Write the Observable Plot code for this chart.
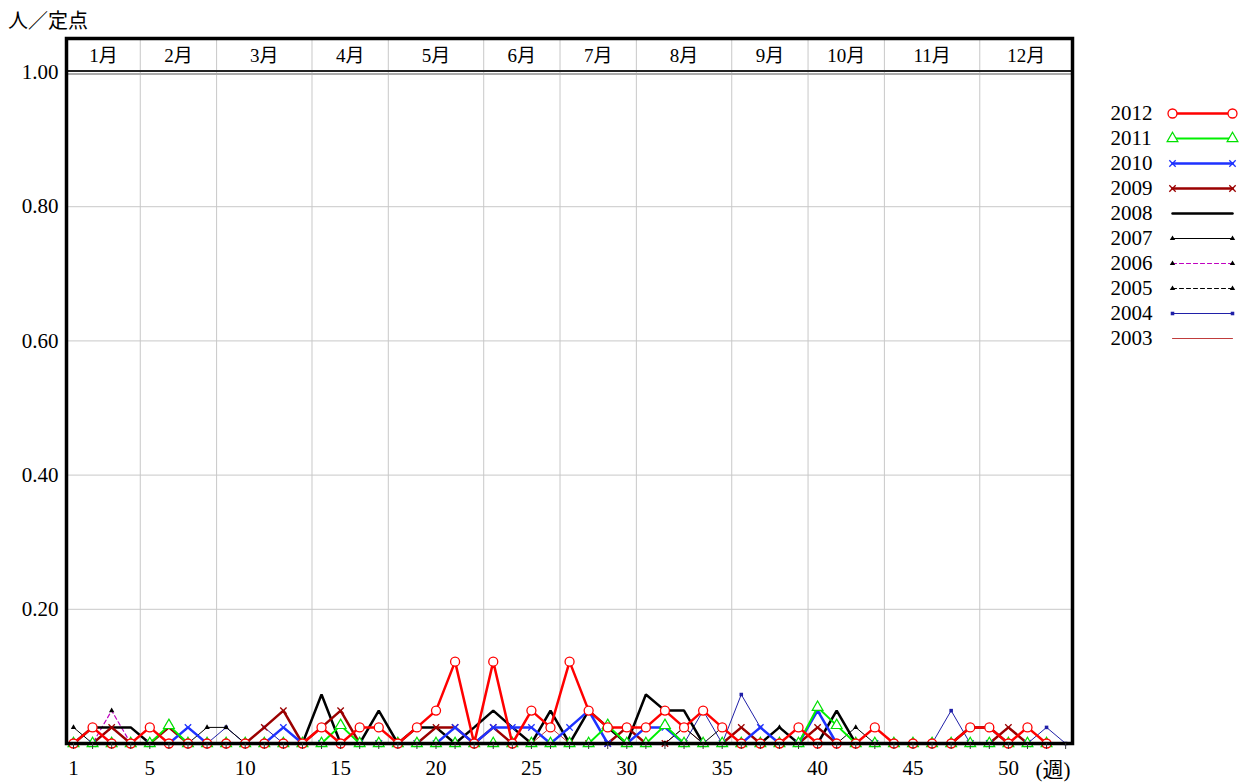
<!DOCTYPE html>
<html><head><meta charset="utf-8">
<script src="https://cdn.jsdelivr.net/npm/d3@7"></script>
<script src="https://cdn.jsdelivr.net/npm/@observablehq/plot@0.6"></script>
<style>
body{margin:0;background:#fff;width:1245px;height:784px;overflow:hidden;position:relative;font-family:"Liberation Serif","Noto Sans CJK JP",serif;}
#title{position:absolute;left:8px;top:5px;font-size:20px;font-family:"Noto Sans CJK JP",sans-serif;color:#000;}
#chart{position:absolute;left:0;top:0;}
#legend{position:absolute;left:1095px;top:95px;}
</style></head><body>
<div id="chart"></div><div id="title">人／定点</div><div id="legend"></div>
<script>
// ---- data ----
const years = [2012, 2011, 2010, 2009, 2008, 2007, 2006, 2005, 2004, 2003];
const v2012 = [0,.024,0,0,.024,0,0,0,0,0, 0,0,0,.024,0,.024,.024,0,.024,.049, .122,0,.122,0,.049,.024,.122,.049,.024,.024, .024,.049,.024,.049,.024,0,0,0,.024,0, 0,0,.024,0,0,0,0,.024,.024,0,.024,0];
const v2011 = [0,0,0,0,0,.027,0,0,0,0, 0,0,0,0,.027,0,0,0,0,0, 0,0,0,0,0,0,0,0,.027,0, 0,.027,0,0,0,0,0,0,0,.054, .027,0,0,0,0,0,0,0,0,0,0,0];
const v2010 = [0,0,0,0,0,0,.024,0,0,0, 0,.024,0,0,0,0,0,0,0,0, .024,0,.024,.024,.024,0,.024,.049,0,0, .024,.024,0,0,0,0,.024,0,0,.049, 0,0,0,0,0,0,0,0,0,0,0,0];
const v2009 = [0,0,.024,0,0,.024,0,0,0,0, .024,.049,0,.024,.049,0,0,0,0,.024, .024,0,.024,0,0,0,0,0,0,.024, 0,0,0,0,0,.024,0,0,0,.024, 0,0,0,0,0,0,0,0,0,.024,0,0];
const v2008 = [0,.024,.024,.024,0,0,0,0,0,0, 0,0,0,.073,0,0,.049,0,.024,.024, 0,.024,.049,.024,0,.049,0,.049,.024,0, .073,.049,.049,0,0,0,0,.024,0,0, .049,0,0,0,0,0,0,.024,.024,0,0,0];
const v2007 = [.024,0,0,0,0,0,0,.024,.024,0, 0,0,0,0,0,0,0,0,0,0, 0,0,0,0,0,0,0,0,0,.024, 0,0,.024,0,.024,0,0,0,.024,0, 0,.024,0,0,0,0,0,0,0,0,0,0];
const v2006 = [0,0,.049,0,0,0,0,0,0,0, 0,0,0,0,0,0,0,0,0,0, 0,0,0,0,0,0,0,0,0,0, 0,0,0,0,0,0,0,0,0,0, 0,0,0,0,0,0,0,0,0,0,0,0];
const v2005 = [0,0,0,0,0,0,0,0,0,0, 0,0,0,0,0,0,0,0,0,0, 0,0,0,0,0,0,0,0,0,0, 0,0,0,0,0,0,0,.024,0,0, 0,0,0,0,0,0,0,0,0,0,0,0];
const v2004 = [0,0,0,0,0,0,0,0,.024,0, .024,0,0,0,0,0,0,0,0,0, 0,0,0,0,0,0,0,0,0,0, 0,0,0,.049,0,.073,.024,0,0,0, 0,0,0,0,0,0,.049,0,0,0,0,.024,0];
const v2003 = [0,.024,0,0,0,0,0,0,0,0, 0,0,0,0,0,0,0,0,0,0, 0,0,0,0,0,.024,0,0,0,0, 0,0,.024,0,0,0,0,0,0,0, 0,0,0,0,0,0,0,0,0,0,0,0];
const monthLabels = ["1月","2月","3月","4月","5月","6月","7月","8月","9月","10月","11月","12月"];
const monthBounds = [4.5, 8.5, 13.5, 17.5, 22.5, 26.5, 30.5, 35.5, 39.5, 43.5, 48.5];
const xTickLabels = [1, 5, 10, 15, 20, 25, 30, 35, 40, 45, 50];
const yTicks = [0.2, 0.4, 0.6, 0.8, 1.0];
const yGrid = [0.2, 0.4, 0.6, 0.8];

// ---- styles ----
const styles = {
  2012: {stroke: "#ff0000", width: 2.5, symbol: "circle", r: 4.5, mstroke: "#ff0000", mfill: "white", msw: 1.3},
  2011: {stroke: "#00f000", width: 2, symbol: "triangle", r: 4, mstroke: "#00e000", mfill: "white", msw: 1.2},
  2010: {stroke: "#1e32ff", width: 2.5, symbol: "times", r: 3, mstroke: "#1e32ff", mfill: "none", msw: 1.3},
  2009: {stroke: "#9b0000", width: 2.5, symbol: "times", r: 3, mstroke: "#9b0000", mfill: "none", msw: 1.3},
  2008: {stroke: "#000000", width: 2.5, symbol: null},
  2007: {stroke: "#000000", width: 1, symbol: "triangle", r: 2, mstroke: "none", mfill: "#000"},
  2006: {stroke: "#c000c0", width: 1.2, dash: "4,3", symbol: "triangle", r: 2, mstroke: "none", mfill: "#000"},
  2005: {stroke: "#000000", width: 1, dash: "4,3", symbol: "triangle", r: 2, mstroke: "none", mfill: "#000"},
  2004: {stroke: "#2020a8", width: 1, symbol: "square", r: 2, mstroke: "none", mfill: "#2020a8"},
  2003: {stroke: "#c03c3c", width: 1, symbol: null}
};

const series = {2012: v2012, 2011: v2011, 2010: v2010, 2009: v2009, 2008: v2008, 2007: v2007, 2006: v2006, 2005: v2005, 2004: v2004, 2003: v2003};
const allWeeks = d3.range(1, 54);
const edges = [0.633, ...monthBounds, 53.36];
const monthCenters = monthLabels.map((_, i) => (edges[i] + edges[i + 1]) / 2);

const seriesMarks = [];
for (const yr of years.slice().reverse()) {
  const st = styles[yr];
  const rows = series[yr].map((v, i) => ({week: i + 1, value: v}));
  seriesMarks.push(Plot.line(rows, {x: "week", y: "value", stroke: st.stroke, strokeWidth: st.width, strokeDasharray: st.dash, strokeLinejoin: "miter"}));
  if (st.symbol) seriesMarks.push(Plot.dot(rows, {x: "week", y: "value", symbol: st.symbol, r: st.r, stroke: st.mstroke, fill: st.mfill, strokeWidth: st.msw}));
}

const chart = Plot.plot({
  width: 1245, height: 784,
  marginLeft: 66, marginRight: 173, marginTop: 38, marginBottom: 41,
  style: {fontFamily: '"Liberation Serif","Noto Sans CJK JP",serif', fontSize: "21px", color: "#000", background: "white", overflow: "visible"},
  x: {domain: [0.633, 53.36], label: null},
  y: {domain: [0, 1.0507], label: null},
  marks: [
    Plot.ruleY(yGrid, {stroke: "#c8c8c8", strokeWidth: 1}),
    Plot.ruleX(monthBounds, {stroke: "#c8c8c8", strokeWidth: 1}),
    Plot.ruleY([1], {stroke: "#aaa", strokeWidth: 2, dy: 1.5}),
    Plot.ruleY([1], {stroke: "#222", strokeWidth: 2, dy: -1.5}),
    Plot.text(monthLabels, {x: monthCenters, frameAnchor: "top", dy: 17, lineAnchor: "middle", fontSize: 19}),
    ...seriesMarks,
    Plot.frame({stroke: "#000", strokeWidth: 3.5}),
    Plot.axisY({ticks: yTicks, tickFormat: d3.format(".2f"), tickSize: 0, tickPadding: 8, label: null}),
    Plot.axisX({ticks: allWeeks, tickSize: 6, tickFormat: () => "", label: null, stroke: "#333"}),
    Plot.axisX({ticks: xTickLabels, tickSize: 0, tickPadding: 17, label: null}),
    Plot.text(["(週)"], {frameAnchor: "bottom-right", textAnchor: "end", dx: -2, dy: 27, lineAnchor: "middle"})
  ]
});
document.getElementById("chart").appendChild(chart);

// ---- legend ----
const legendRows = years.map(y => ({year: y}));
const legendMarks = [];
for (const yr of years) {
  const st = styles[yr];
  const ends = [{year: yr, x: 0}, {year: yr, x: 1}];
  legendMarks.push(Plot.line(ends, {x: "x", y: "year", stroke: st.stroke, strokeWidth: st.width, strokeDasharray: st.dash}));
  if (st.symbol) legendMarks.push(Plot.dot(ends, {x: "x", y: "year", symbol: st.symbol, r: st.r, stroke: st.mstroke, fill: st.mfill, strokeWidth: st.msw}));
}
const legend = Plot.plot({
  width: 150, height: 262,
  marginLeft: 77, marginRight: 13, marginTop: 17, marginBottom: 18,
  style: {fontFamily: '"Liberation Serif",serif', fontSize: "21px", color: "#000", background: "white", overflow: "visible"},
  x: {domain: [0, 1], axis: null},
  y: {type: "point", domain: years, padding: 0, axis: null},
  marks: [
    ...legendMarks,
    Plot.text(legendRows, {y: "year", text: d => String(d.year), frameAnchor: "left", textAnchor: "start", dx: -62})
  ]
});
document.getElementById("legend").appendChild(legend);
</script>
</body></html>
